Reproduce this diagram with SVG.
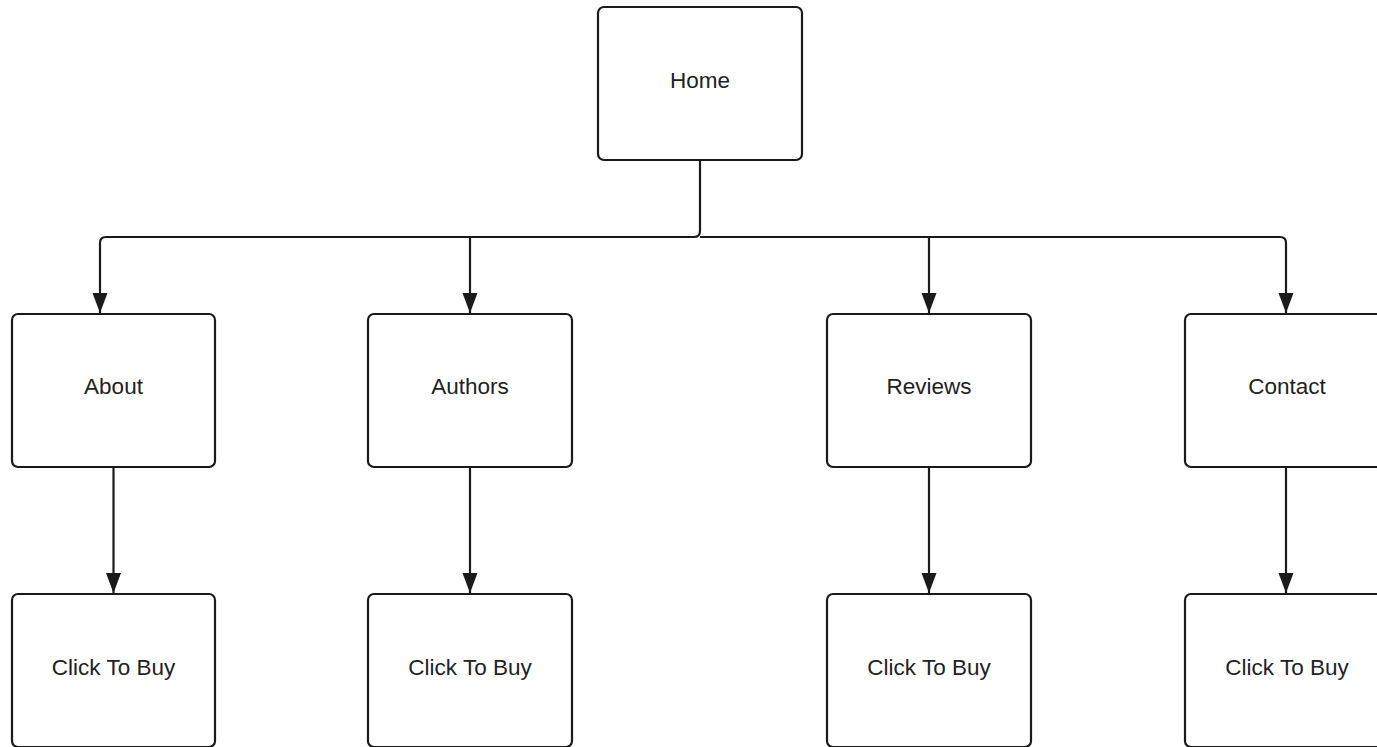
<svg xmlns="http://www.w3.org/2000/svg" width="1377" height="747" viewBox="0 0 1377 747">
<style>
.box{fill:#ffffff;stroke:#1a1a1a;stroke-width:2.2}
.lbl{font-family:"Liberation Sans",Arial,sans-serif;font-size:22.5px;fill:#222;text-anchor:middle}
.con{fill:none;stroke:#1a1a1a;stroke-width:2.2}
</style>
<defs>
<marker id="arr" markerUnits="userSpaceOnUse" markerWidth="20" markerHeight="16" refX="20" refY="7.5" orient="auto" viewBox="0 0 20 15">
<path d="M0,0 L20,7.5 L0,15 z" fill="#1a1a1a"/>
</marker>
</defs>
<rect width="1377" height="747" fill="#ffffff"/>
<g id="connectors">
<path class="con" d="M700,160 V231 Q700,237 694,237 H106 Q100,237 100,243 V313" marker-end="url(#arr)"/>
<path class="con" d="M700,237 H1280 Q1286,237 1286,243 V313" marker-end="url(#arr)"/>
<path class="con" d="M470,237 V313" marker-end="url(#arr)"/>
<path class="con" d="M929,237 V313" marker-end="url(#arr)"/>
<path class="con" d="M113.5,467 V593" marker-end="url(#arr)"/>
<path class="con" d="M470,467 V593" marker-end="url(#arr)"/>
<path class="con" d="M929,467 V593" marker-end="url(#arr)"/>
<path class="con" d="M1286,467 V593" marker-end="url(#arr)"/>
</g>
<g id="home"><rect class="box" x="598" y="7" width="204" height="153" rx="6"/><text class="lbl" x="700" y="88">Home</text></g>
<g id="about"><rect class="box" x="12" y="314" width="203" height="153" rx="6"/><text class="lbl" x="113.5" y="394">About</text></g>
<g id="authors"><rect class="box" x="368" y="314" width="204" height="153" rx="6"/><text class="lbl" x="470" y="394">Authors</text></g>
<g id="reviews"><rect class="box" x="827" y="314" width="204" height="153" rx="6"/><text class="lbl" x="929" y="394">Reviews</text></g>
<g id="contact"><rect class="box" x="1185" y="314" width="204" height="153" rx="6"/><text class="lbl" x="1287" y="394">Contact</text></g>
<g id="buy1"><rect class="box" x="12" y="594" width="203" height="153" rx="6"/><text class="lbl" x="113.5" y="675">Click To Buy</text></g>
<g id="buy2"><rect class="box" x="368" y="594" width="204" height="153" rx="6"/><text class="lbl" x="470" y="675">Click To Buy</text></g>
<g id="buy3"><rect class="box" x="827" y="594" width="204" height="153" rx="6"/><text class="lbl" x="929" y="675">Click To Buy</text></g>
<g id="buy4"><rect class="box" x="1185" y="594" width="204" height="153" rx="6"/><text class="lbl" x="1287" y="675">Click To Buy</text></g>
</svg>
